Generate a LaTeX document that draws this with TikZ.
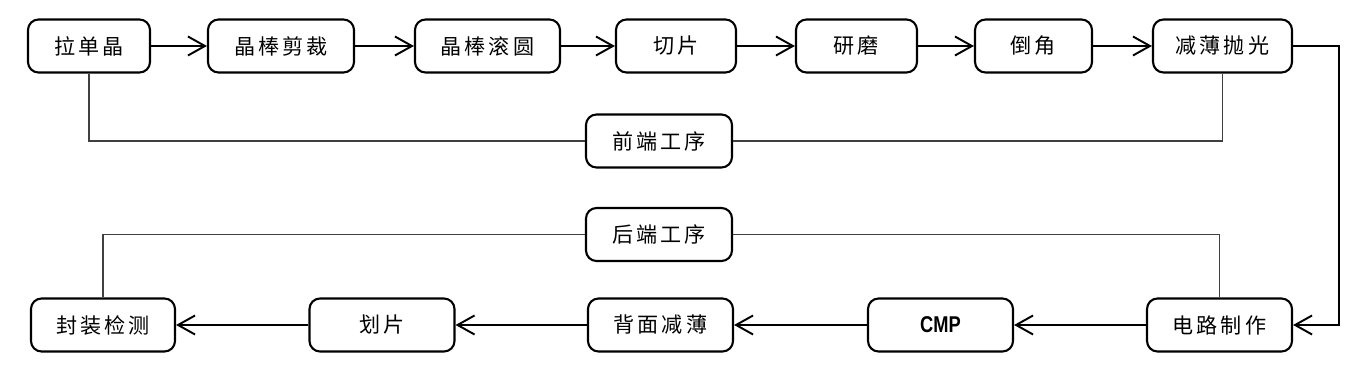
\documentclass[tikz,border=0pt]{standalone}
\usepackage{fontspec}
\usetikzlibrary{arrows.meta}
\newfontfamily\cjk[LetterSpace=14]{Noto Sans CJK SC}
\newfontfamily\latn[FakeStretch=0.8]{Liberation Sans}

\begin{document}
\begin{tikzpicture}[
    proc/.style={rectangle, rounded corners=6pt, draw, line width=1.2pt, minimum width=2.9cm, minimum height=1.06cm, font=\cjk\fontsize{12}{14}\selectfont},
    stage/.style={proc},
    flow/.style={-{Straight Barb[length=3.4mm, width=3.8mm, line width=1.1pt]}, line width=1.2pt},
    link/.style={line width=0.6pt, draw=black!75}
]
\useasboundingbox (0,0) rectangle (27.4,-7.4);

% Front-end row
\node[proc, minimum width=2.44cm] (ldj) at (1.78,-0.92) {拉单晶};
\node[proc, minimum width=2.92cm] (jbjc) at (5.62,-0.92) {晶棒剪裁};
\node[proc, minimum width=2.90cm] (jbgy) at (9.75,-0.92) {晶棒滚圆};
\node[proc, minimum width=2.40cm] (qp) at (13.52,-0.92) {切片};
\node[proc, minimum width=2.42cm] (ym) at (17.13,-0.92) {研磨};
\node[proc, minimum width=2.34cm] (dj) at (20.67,-0.92) {倒角};
\node[proc, minimum width=2.78cm] (jbpg) at (24.45,-0.92) {减薄抛光};

% Stage labels
\node[stage, minimum width=2.92cm] (qd) at (13.18,-2.82) {前端工序};
\node[stage, minimum width=2.92cm] (hd) at (13.18,-4.69) {后端工序};

% Back-end row
\node[proc, minimum width=2.88cm] (fzjc) at (2.06,-6.5) {封装检测};
\node[proc] (hp) at (7.64,-6.5) {划片};
\node[proc] (bmjb) at (13.21,-6.5) {背面减薄};
\node[proc] (cmp) at (18.81,-6.5) {\latn\fontsize{13}{15}\selectfont\bfseries CMP};
\node[proc] (dlzz) at (24.39,-6.5) {电路制作};
\coordinate (turn) at (26.78,-6.5);

% Flow
\draw[flow] (ldj) -- (jbjc);
\draw[flow] (jbjc) -- (jbgy);
\draw[flow] (jbgy) -- (qp);
\draw[flow] (qp) -- (ym);
\draw[flow] (ym) -- (dj);
\draw[flow] (dj) -- (jbpg);
\draw[flow] (jbpg.east) -| (turn) -- (dlzz.east);
\draw[flow] (dlzz) -- (cmp);
\draw[flow] (cmp) -- (bmjb);
\draw[flow] (bmjb) -- (hp);
\draw[flow] (hp) -- (fzjc);

% Stage brackets
\draw[link] (ldj.south) |- (qd.west);
\draw[link] (jbpg.south) |- (qd.east);
\draw[link] (fzjc.north) |- (hd.west);
\draw[link] (dlzz.north) |- (hd.east);

\end{tikzpicture}
\end{document}
